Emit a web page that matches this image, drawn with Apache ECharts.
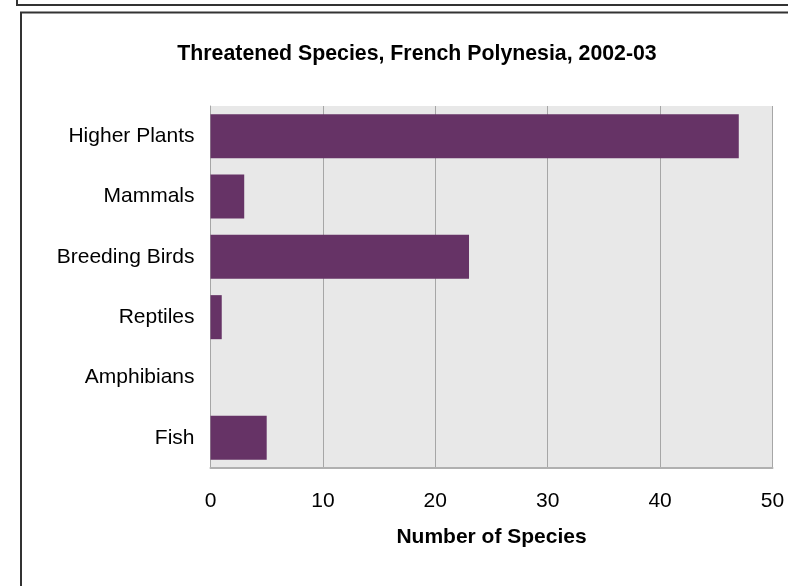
<!DOCTYPE html>
<html><head><meta charset="utf-8">
<script src="https://cdn.jsdelivr.net/npm/echarts@6/dist/echarts.min.js"></script>
<style>html,body{margin:0;padding:0;background:#fff}#c{width:788px;height:586px}</style>
</head><body><div id="c"></div>
<script>
var categories = ['Higher Plants','Mammals','Breeding Birds','Reptiles','Amphibians','Fish'];
var speciesCounts = [47, 3, 23, 1, 0, 5];
var xTicks = [0, 10, 20, 30, 40, 50];
var titleText = 'Threatened Species, French Polynesia, 2002-03';
var xAxisName = 'Number of Species';

var font = 'Arial, "Liberation Sans", sans-serif';
var chart = echarts.init(document.getElementById('c'), null, {renderer:'canvas'});
chart.setOption({
  animation: false,
  backgroundColor: '#fff',
  graphic: [
    {type:'polyline', shape:{points:[[17,0],[17,5],[790,5]]}, style:{stroke:'#333', lineWidth:2, fill:null}},
    {type:'polyline', shape:{points:[[21,590],[21,12.5],[790,12.5]]}, style:{stroke:'#333', lineWidth:2, fill:null}},
    {type:'text', x:417, y:54, style:{text:titleText, textAlign:'center', textVerticalAlign:'middle',
      font:'bold 21.3px Arial, "Liberation Sans", sans-serif', fill:'#000'}}
  ],
  grid: {left: 210.5, right: 15.5, top: 106, bottom: 118, show: true, backgroundColor: '#e8e8e8', borderWidth: 0},
  xAxis: {
    type: 'value', min: xTicks[0], max: xTicks[xTicks.length-1], interval: 10,
    name: xAxisName, nameLocation: 'middle', nameGap: 59,
    nameTextStyle: {fontFamily: font, fontSize: 21, fontWeight: 'bold', color: '#000'},
    axisLine: {show: true, lineStyle: {color: '#b0b0b0', width: 2}},
    axisTick: {show: false},
    axisLabel: {fontFamily: font, fontSize: 21, color: '#000', margin: 23},
    splitLine: {show: true, lineStyle: {color: '#a6a6a6', width: 1}}
  },
  yAxis: {
    type: 'category', data: categories, inverse: true,
    axisLine: {show: true, lineStyle: {color: '#a6a6a6', width: 1}},
    axisTick: {show: false},
    axisLabel: {fontFamily: font, fontSize: 21, color: '#000', margin: 16}
  },
  series: [{
    type: 'bar', data: speciesCounts, barCategoryGap: '27%',
    itemStyle: {color: '#663366'}
  }]
});
</script></body></html>
